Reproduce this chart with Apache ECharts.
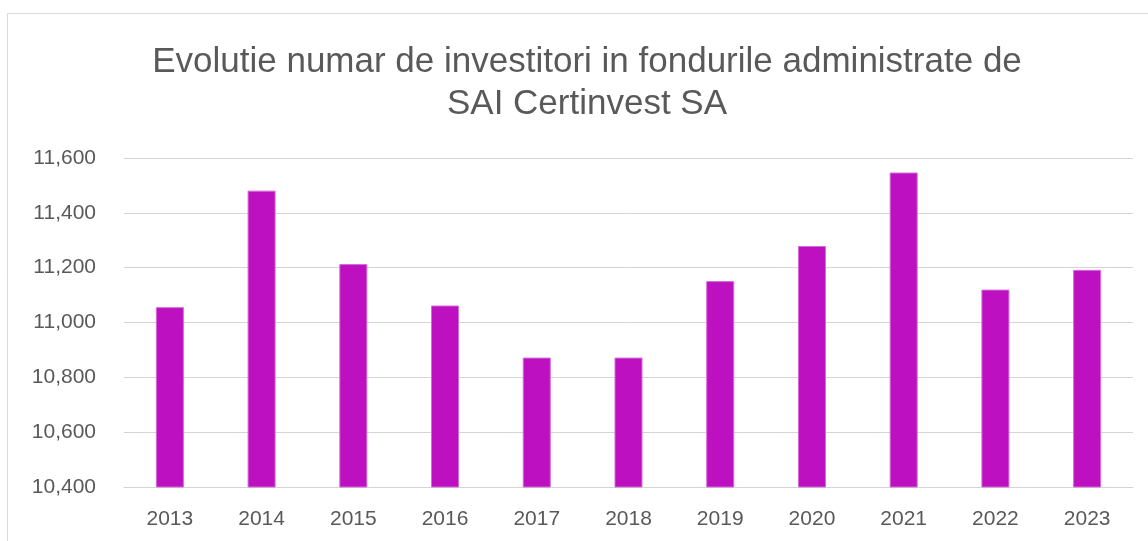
<!doctype html>
<html>
	<head>
		<meta charset="utf-8">
		<title></title>
		<script src="https://cdn.jsdelivr.net/npm/echarts@6/dist/echarts.min.js"></script>
		<style>
			html, body { margin: 0; padding: 0; background: #fff; }
			#main { width: 1148px; height: 541px; }
		</style>
	</head>
	<body>
		<div id="main"></div>
		<script type="text/javascript">
			// ani si numar de investitori
			var years = ['2013', '2014', '2015', '2016', '2017', '2018', '2019', '2020', '2021', '2022', '2023'];
			var investitori = [11056, 11481, 11213, 11062, 10872, 10872, 11151, 11279, 11547, 11120, 11192];
			var yTicks = [10400, 10600, 10800, 11000, 11200, 11400, 11600];

			var myChart = echarts.init(document.getElementById('main'));

			var option = {
				animation: false,
				backgroundColor: '#fff',
				textStyle: { fontFamily: 'Liberation Sans' },
				graphic: [{
					type: 'rect',
					shape: { x: 7.5, y: 13.5, width: 1200, height: 600 },
					style: { fill: 'none', stroke: '#d9d9d9', lineWidth: 1 },
					silent: true
				}],
				title: {
					text: 'Evolutie numar de investitori in fondurile administrate de\nSAI Certinvest SA',
					left: 582,
					top: 36,
					textAlign: 'center',
					textStyle: {
						color: '#595959',
						fontSize: 35,
						fontWeight: 'normal',
						lineHeight: 42,
						fontFamily: 'Liberation Sans'
					}
				},
				grid: { left: 124, right: 15, top: 158, bottom: 54, containLabel: false },
				xAxis: {
					type: 'category',
					data: years,
					axisLine: { lineStyle: { color: '#d4d4d4', width: 1 } },
					axisTick: { show: false },
					axisLabel: { color: '#595959', fontSize: 21, margin: 22 }
				},
				yAxis: {
					type: 'value',
					min: yTicks[0],
					max: yTicks[yTicks.length - 1],
					interval: 200,
					axisLine: { show: false },
					axisTick: { show: false },
					splitLine: { lineStyle: { color: '#d4d4d4', width: 1 } },
					axisLabel: {
						color: '#595959',
						fontSize: 21,
						margin: 28,
						formatter: function(v) { return v.toLocaleString('en-US'); }
					}
				},
				series: [{
					type: 'bar',
					data: investitori,
					barWidth: 28,
					itemStyle: { color: '#bd10c0', borderColor: '#d46ad6', borderWidth: 1 }
				}]
			};

			myChart.setOption(option);
		</script>
	</body>
</html>
